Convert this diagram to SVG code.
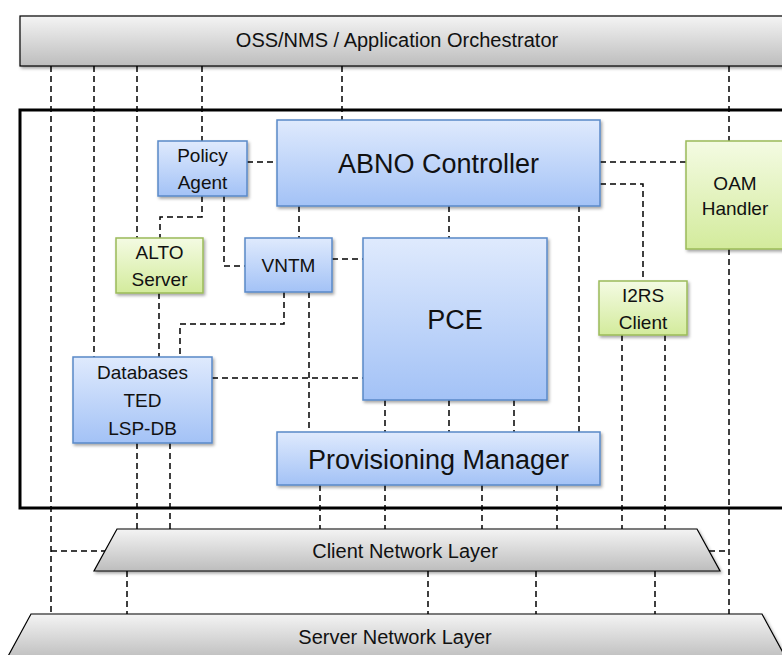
<svg xmlns="http://www.w3.org/2000/svg" width="782" height="655" viewBox="0 0 782 655">
<defs>
<linearGradient id="gBlue" x1="0" y1="0" x2="0" y2="1"><stop offset="0" stop-color="#dfeafd"/><stop offset="1" stop-color="#a3c2f6"/></linearGradient>
<linearGradient id="gGreen" x1="0" y1="0" x2="0" y2="1"><stop offset="0" stop-color="#f4fbe3"/><stop offset="1" stop-color="#d3eb9c"/></linearGradient>
<linearGradient id="gGray" x1="0" y1="0" x2="0" y2="1"><stop offset="0" stop-color="#f4f4f4"/><stop offset="1" stop-color="#bdbdbd"/></linearGradient>
<filter id="sh" x="-10%" y="-10%" width="130%" height="140%"><feDropShadow dx="1.5" dy="2" stdDeviation="1.5" flood-color="#000" flood-opacity="0.35"/></filter>
</defs>
<style>
.blue{fill:url(#gBlue);stroke:#5a89c8;stroke-width:1.5;filter:url(#sh)}
.green{fill:url(#gGreen);stroke:#9bbb59;stroke-width:1.5;filter:url(#sh)}
.gray{fill:url(#gGray);stroke:#000;stroke-width:1.2;filter:url(#sh)}
.c{fill:none;stroke:#000;stroke-width:1.5;stroke-dasharray:6 4}
text{font-family:"Liberation Sans",Arial,sans-serif;fill:#111;text-anchor:middle}
.s{font-size:20px}
.m{font-size:19px}
.l{font-size:27px}
</style>
<rect width="782" height="655" fill="#fff"/>

<g id="connectors">
<path class="c" d="M51 66V614"/>
<path class="c" d="M51 551H105"/>
<path class="c" d="M94 66V357"/>
<path class="c" d="M137 66V238"/>
<path class="c" d="M202 66V141"/>
<path class="c" d="M342 66V120"/>
<path class="c" d="M729 66V141"/>
<path class="c" d="M729 249V614"/>
<path class="c" d="M709 551H729"/>
<path class="c" d="M247 162H277"/>
<path class="c" d="M202 196V217H160V238"/>
<path class="c" d="M224 196V266H245"/>
<path class="c" d="M299 206V238"/>
<path class="c" d="M332 259H363"/>
<path class="c" d="M449 206V238"/>
<path class="c" d="M579 206V432"/>
<path class="c" d="M600 162H686"/>
<path class="c" d="M600 184H643V281"/>
<path class="c" d="M622 335V529"/>
<path class="c" d="M665 335V529"/>
<path class="c" d="M159 293V357"/>
<path class="c" d="M284 292V324H180V357"/>
<path class="c" d="M309 292V432"/>
<path class="c" d="M212 378H363"/>
<path class="c" d="M137 443V529"/>
<path class="c" d="M170 443V529"/>
<path class="c" d="M385 400V432"/>
<path class="c" d="M449 400V432"/>
<path class="c" d="M514 400V432"/>
<path class="c" d="M320 485V529"/>
<path class="c" d="M385 485V529"/>
<path class="c" d="M482 485V529"/>
<path class="c" d="M557 485V529"/>
<path class="c" d="M127 571V614"/>
<path class="c" d="M428 571V614"/>
<path class="c" d="M536 571V614"/>
<path class="c" d="M655 571V614"/>
</g>

<g id="oss"><rect class="gray" x="20" y="16" width="780" height="50"/><text class="s" x="397" y="47">OSS/NMS / Application Orchestrator</text></g>

<g id="frame"><rect x="20" y="110" width="780" height="398" fill="none" stroke="#000" stroke-width="3"/></g>

<g id="policy"><rect class="blue" x="158" y="141" width="89" height="55"/><text class="m" x="202.5" y="162">Policy</text><text class="m" x="202.5" y="189">Agent</text></g>
<g id="abno"><rect class="blue" x="277" y="120" width="323" height="86"/><text class="l" x="438.5" y="173">ABNO Controller</text></g>
<g id="alto"><rect class="green" x="116" y="238" width="87" height="55"/><text class="m" x="159.5" y="259">ALTO</text><text class="m" x="159.5" y="286">Server</text></g>
<g id="vntm"><rect class="blue" x="245" y="238" width="87" height="54"/><text class="m" x="288.5" y="272">VNTM</text></g>
<g id="pce"><rect class="blue" x="363" y="238" width="184" height="162"/><text class="l" x="455" y="329">PCE</text></g>
<g id="oam"><rect class="green" x="686" y="141" width="110" height="108"/><text class="m" x="735" y="190">OAM</text><text class="m" x="735" y="215">Handler</text></g>
<g id="i2rs"><rect class="green" x="599" y="281" width="88" height="54"/><text class="m" x="643" y="302">I2RS</text><text class="m" x="643" y="329">Client</text></g>
<g id="db"><rect class="blue" x="73" y="357" width="139" height="86"/><text class="m" x="142.5" y="379">Databases</text><text class="m" x="142.5" y="407">TED</text><text class="m" x="142.5" y="435">LSP-DB</text></g>
<g id="prov"><rect class="blue" x="277" y="432" width="323" height="53"/><text class="l" x="438.5" y="469">Provisioning Manager</text></g>

<g id="client"><polygon class="gray" points="117,529 697,529 720,571 94,571"/><text class="s" x="405" y="558">Client Network Layer</text></g>
<g id="server"><polygon class="gray" points="31,614 762,614 787,660 6,660"/><text class="s" x="395" y="644">Server Network Layer</text></g>
</svg>
